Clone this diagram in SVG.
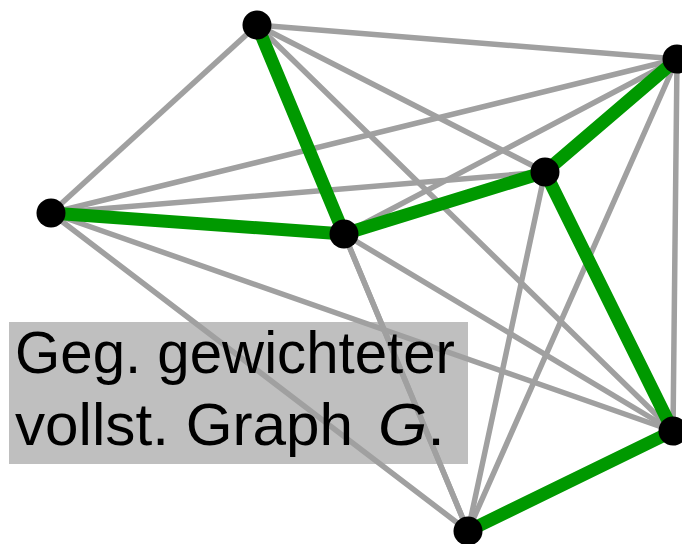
<svg xmlns="http://www.w3.org/2000/svg" width="682" height="544" viewBox="0 0 682 544">
<style>
.e{stroke:#a0a0a0;stroke-width:5.5;stroke-linecap:round;fill:none}
.t{stroke:#009900;stroke-width:13;stroke-linecap:round;fill:none}
.n{fill:#000}
.lbl{font-family:"Liberation Sans",Arial,sans-serif;font-size:60px;fill:#000}
</style>
<rect x="9" y="322" width="459" height="142" fill="#bfbfbf"/>
<g id="connectors">
<g id="gray">
<line class="e" x1="257" y1="25" x2="677" y2="59"/>
<line class="e" x1="257" y1="25" x2="545" y2="172"/>
<line class="e" x1="257" y1="25" x2="51" y2="213"/>
<line class="e" x1="257" y1="25" x2="673" y2="431"/>
<line class="e" x1="257" y1="25" x2="468" y2="531"/>
<line class="e" x1="677" y1="59" x2="51" y2="213"/>
<line class="e" x1="677" y1="59" x2="344" y2="234"/>
<line class="e" x1="677" y1="59" x2="673" y2="431"/>
<line class="e" x1="677" y1="59" x2="468" y2="531"/>
<line class="e" x1="545" y1="172" x2="51" y2="213"/>
<line class="e" x1="545" y1="172" x2="468" y2="531"/>
<line class="e" x1="51" y1="213" x2="673" y2="431"/>
<line class="e" x1="51" y1="213" x2="468" y2="531"/>
<line class="e" x1="344" y1="234" x2="673" y2="431"/>
<line class="e" x1="344" y1="234" x2="468" y2="531"/>
</g>
</g>
<g id="label">
<text class="lbl" x="15" y="373" textLength="440" lengthAdjust="spacingAndGlyphs">Geg. gewichteter</text>
<text class="lbl" x="15" y="445" textLength="338" lengthAdjust="spacingAndGlyphs">vollst. Graph</text>
<text class="lbl" x="378" y="445" textLength="67" lengthAdjust="spacingAndGlyphs"><tspan font-style="italic">G</tspan>.</text>
</g>
<g id="tour">
<line class="t" x1="257" y1="25" x2="344" y2="234"/>
<line class="t" x1="51" y1="213" x2="344" y2="234"/>
<line class="t" x1="344" y1="234" x2="545" y2="172"/>
<line class="t" x1="545" y1="172" x2="677" y2="59"/>
<line class="t" x1="545" y1="172" x2="673" y2="431"/>
<line class="t" x1="673" y1="431" x2="468" y2="531"/>
</g>
<g id="nA"><circle class="n" cx="257" cy="25" r="14.5"/></g>
<g id="nB"><circle class="n" cx="677" cy="59" r="14.5"/></g>
<g id="nC"><circle class="n" cx="545" cy="172" r="14.5"/></g>
<g id="nD"><circle class="n" cx="51" cy="213" r="14.5"/></g>
<g id="nE"><circle class="n" cx="344" cy="234" r="14.5"/></g>
<g id="nF"><circle class="n" cx="673" cy="431" r="14.5"/></g>
<g id="nG"><circle class="n" cx="468" cy="531" r="14.5"/></g>
</svg>
